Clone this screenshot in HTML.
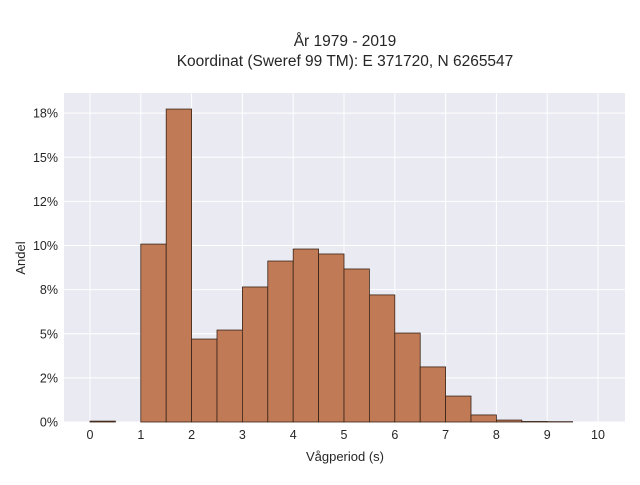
<!DOCTYPE html>
<html><head><meta charset="utf-8"><style>
body{margin:0;background:#fff;font-family:"Liberation Sans",sans-serif}
svg text{font-family:"Liberation Sans",sans-serif;fill:#262626}
</style></head><body>
<svg width="640" height="480" xmlns="http://www.w3.org/2000/svg">
<text x="345" y="46" text-anchor="middle" font-size="15.5">År 1979 - 2019</text>
<text x="345" y="66" text-anchor="middle" font-size="15.5">Koordinat (Sweref 99 TM): E 371720, N 6265547</text>
<rect x="64" y="93" width="561" height="329" fill="#eaeaf2"/>
<g id="grid"></g><g id="bars"></g><g id="axes"></g>
<text x="345" y="461" text-anchor="middle" font-size="13">Vågperiod (s)</text>
<text transform="translate(25,258) rotate(-90)" text-anchor="middle" font-size="13">Andel</text>
</svg>
<script>
const binStarts=[0,0.5,1,1.5,2,2.5,3,3.5,4,4.5,5,5.5,6,6.5,7,7.5,8,8.5,9,9.5];
const shares=[0.05,0,10.08,17.73,4.70,5.21,7.65,9.12,9.80,9.52,8.67,7.20,5.04,3.12,1.47,0.40,0.11,0.03,0.02,0];
const xTicks=[0,1,2,3,4,5,6,7,8,9,10];
const yTicks=[0,2.5,5,7.5,10,12.5,15,17.5];
const yTickLabels=["0%","2%","5%","8%","10%","12%","15%","18%"];
const binWidth=0.5;
const X=v=>90+v*50.8, Y=v=>422-v*17.65;
const NS="http://www.w3.org/2000/svg";
const grid=document.getElementById('grid'),bars=document.getElementById('bars'),axes=document.getElementById('axes');
function mk(tag,attrs,parent){const e=document.createElementNS(NS,tag);for(const k in attrs)e.setAttribute(k,attrs[k]);parent.appendChild(e);return e;}
xTicks.forEach((t,i)=>{
 const l=mk('line',{x1:X(t),x2:X(t),y1:93,y2:422,stroke:'#fff','stroke-width':1},grid);
 
 
 const tx=mk('text',{x:X(t),y:439,'text-anchor':'middle','font-size':12.5},axes);
 tx.textContent=t;
 
 
});
yTicks.forEach((t,i)=>{
 const l=mk('line',{x1:64,x2:625,y1:Y(t),y2:Y(t),stroke:'#fff','stroke-width':1},grid);
 
 
 const tx=mk('text',{x:58,y:Y(t)+4.5,'text-anchor':'end','font-size':12.5},axes);
 tx.textContent=yTickLabels[i];
 
 
});
binStarts.forEach((b,i)=>{
 if(shares[i]<=0)return;
 const r=mk('rect',{x:X(b),y:Y(shares[i]),width:X(b+binWidth)-X(b),height:Y(0)-Y(shares[i]),fill:'#c07a55',stroke:'#3a2418','stroke-width':0.8},bars);
 
 
});
</script>
</body></html>
